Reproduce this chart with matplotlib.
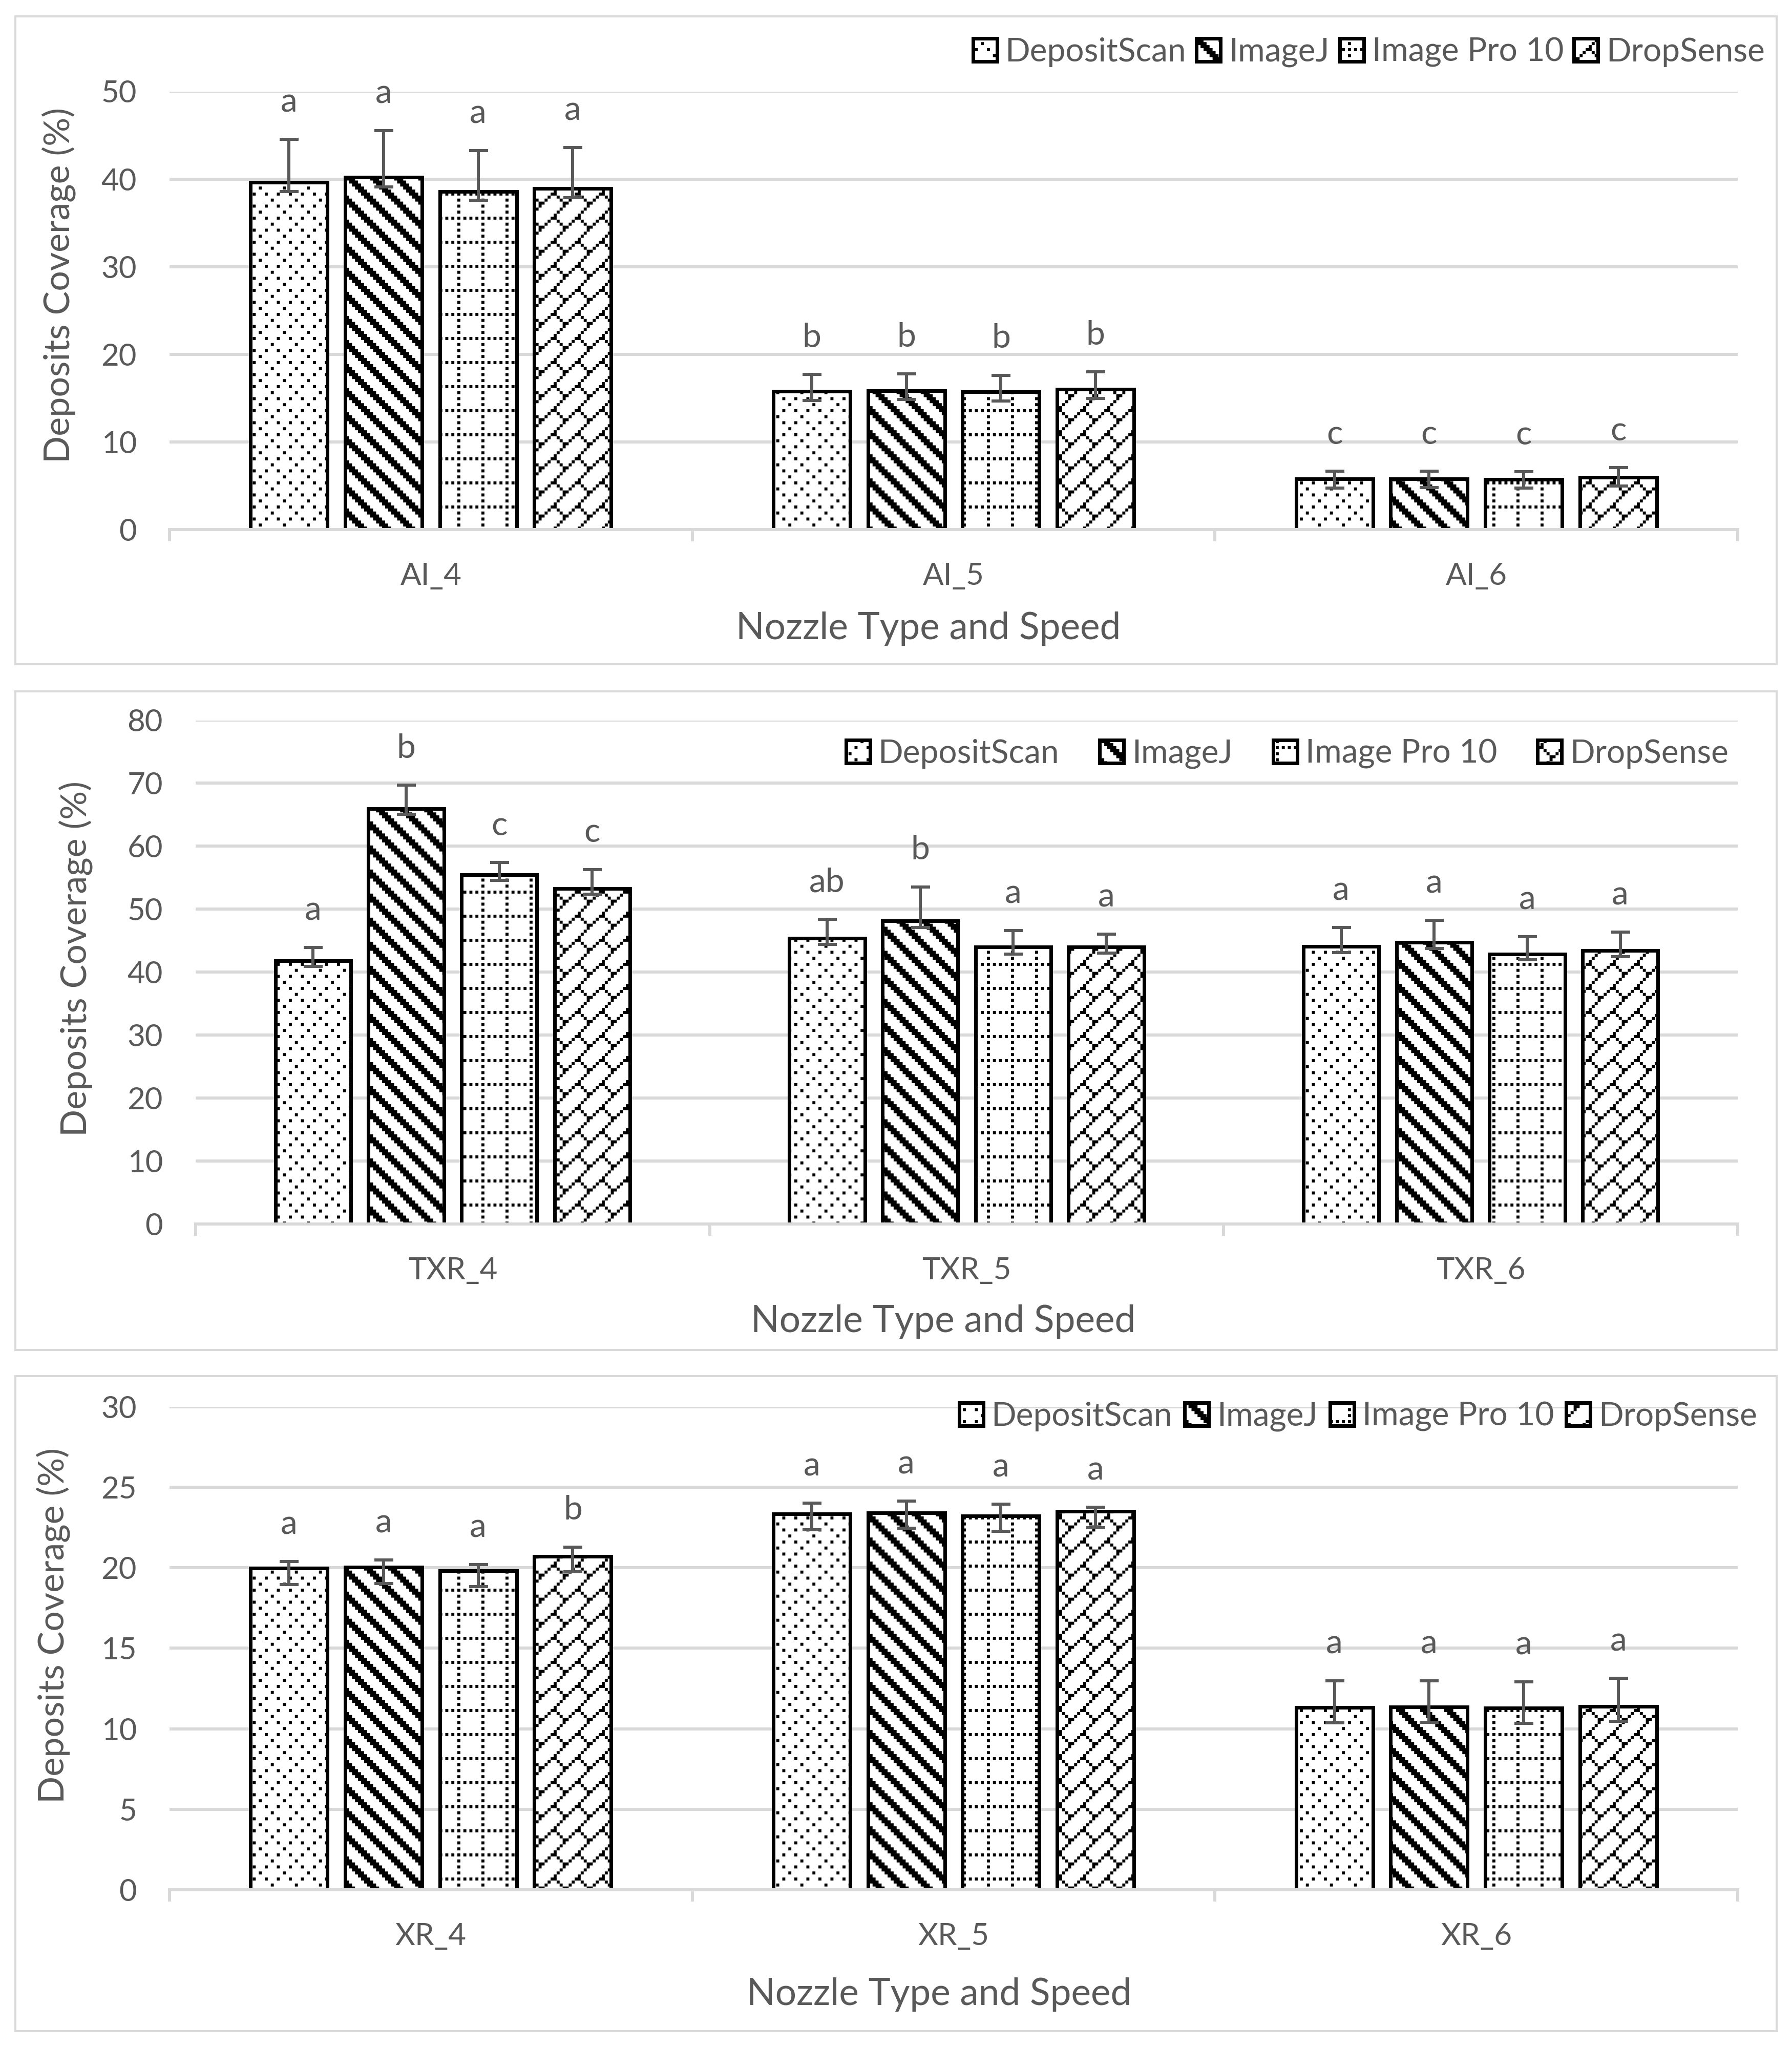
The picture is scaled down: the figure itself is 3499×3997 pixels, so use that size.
import numpy as np
import matplotlib
matplotlib.use("Agg")
import matplotlib.pyplot as plt
import matplotlib.hatch as mhatch
from matplotlib.path import Path
from matplotlib.patches import Rectangle

# ---------------- data ----------------
methods = ["DepositScan", "ImageJ", "Image Pro 10", "DropSense"]

ai_categories = ["AI_4", "AI_5", "AI_6"]
ai_depositscan = [39.6, 15.8, 5.8]
ai_imagej = [40.2, 15.85, 5.8]
ai_imagepro = [38.6, 15.7, 5.75]
ai_dropsense = [38.9, 16.0, 5.95]
ai_err_up_depositscan = [4.95, 1.9, 0.85]
ai_err_up_imagej = [5.35, 1.9, 0.85]
ai_err_up_imagepro = [4.65, 1.9, 0.85]
ai_err_up_dropsense = [4.7, 2.0, 1.1]
ai_err_dn_depositscan = [1.05, 1.05, 1.05]
ai_err_dn_imagej = [1.1, 1.0, 1.0]
ai_err_dn_imagepro = [1.0, 1.05, 1.0]
ai_err_dn_dropsense = [1.0, 1.05, 1.0]
ai_letters_depositscan = ["a", "b", "c"]
ai_letters_imagej = ["a", "b", "c"]
ai_letters_imagepro = ["a", "b", "c"]
ai_letters_dropsense = ["a", "b", "c"]

txr_categories = ["TXR_4", "TXR_5", "TXR_6"]
txr_depositscan = [41.85, 45.4, 44.1]
txr_imagej = [66.0, 48.15, 44.75]
txr_imagepro = [55.5, 44.0, 42.9]
txr_dropsense = [53.3, 44.0, 43.4]
txr_err_up_depositscan = [2.1, 3.0, 3.0]
txr_err_up_imagej = [3.7, 5.4, 3.5]
txr_err_up_imagepro = [1.9, 2.6, 2.7]
txr_err_up_dropsense = [3.0, 2.0, 3.0]
txr_err_dn_depositscan = [0.9, 1.0, 1.0]
txr_err_dn_imagej = [0.9, 1.05, 1.0]
txr_err_dn_imagepro = [0.9, 1.1, 0.95]
txr_err_dn_dropsense = [0.9, 1.0, 0.95]
txr_letters_depositscan = ["a", "ab", "a"]
txr_letters_imagej = ["b", "b", "a"]
txr_letters_imagepro = ["c", "a", "a"]
txr_letters_dropsense = ["c", "a", "a"]

xr_categories = ["XR_4", "XR_5", "XR_6"]
xr_depositscan = [19.96, 23.35, 11.32]
xr_imagej = [20.02, 23.4, 11.36]
xr_imagepro = [19.82, 23.2, 11.28]
xr_dropsense = [20.69, 23.49, 11.4]
xr_err_up_depositscan = [0.43, 0.67, 1.64]
xr_err_up_imagej = [0.45, 0.73, 1.62]
xr_err_up_imagepro = [0.37, 0.73, 1.62]
xr_err_up_dropsense = [0.6, 0.26, 1.74]
xr_err_dn_depositscan = [1.0, 1.0, 0.95]
xr_err_dn_imagej = [1.0, 0.95, 0.95]
xr_err_dn_imagepro = [1.0, 0.95, 0.95]
xr_err_dn_dropsense = [0.95, 1.0, 0.95]
xr_letters_depositscan = ["a", "a", "a"]
xr_letters_imagej = ["a", "a", "a"]
xr_letters_imagepro = ["a", "a", "a"]
xr_letters_dropsense = ["b", "a", "a"]

ai_ticks = [0, 10, 20, 30, 40, 50]
txr_ticks = [0, 10, 20, 30, 40, 50, 60, 70, 80]
xr_ticks = [0, 5, 10, 15, 20, 25, 30]

x_title = "Nozzle Type and Speed"
y_title = "Deposits Coverage (%)"

# ---------------- style: Excel-like 8x8 pattern fills ----------------
DPI = 94            # hatch tile = 94 px = 2 pattern periods of 47 px
REP = 2
W, H = 3500, 3997
PT = 72.0 / DPI     # points per pixel

PAT_DOTS = ["#...#...", "........", "..#.....", "........",
            "#...#...", "........", "......#.", "........"]
PAT_WIDE_DIAG = ["###.....", ".###....", "..###...", "...###..",
                 "....###.", ".....###", "#.....##", "##.....#"]
PAT_DOT_GRID = ["#.#.#.#.", "........", "#.......", "........",
                "#.......", "........", "#.......", "........"]
PAT_BRICK = ["#......#", ".#....#.", "..#..#..", "...##...",
             "...#....", "..#.....", ".#......", "#......."]


def bitmap_hatch(char, rows):
    cells = [(cx, cy) for cy, row in enumerate(rows)
             for cx, ch in enumerate(row) if ch == "#"]

    class _BitmapHatch(mhatch.HatchPatternBase):
        def __init__(self, hatch, density):
            self.num_vertices = 5 * len(cells) * REP * REP if char in hatch else 0

        def set_vertices_and_codes(self, vertices, codes):
            s = 1.0 / (8 * REP)
            k = 0
            for i in range(REP):
                for j in range(REP):
                    for cx, cy in cells:
                        x0 = (i * 8 + cx) * s
                        y0 = 1.0 - (j * 8 + cy + 1) * s
                        vertices[k:k + 5] = [(x0, y0), (x0 + s, y0), (x0 + s, y0 + s),
                                             (x0, y0 + s), (x0, y0)]
                        codes[k:k + 5] = [Path.MOVETO, Path.LINETO, Path.LINETO,
                                          Path.LINETO, Path.CLOSEPOLY]
                        k += 5
    return _BitmapHatch


mhatch._hatch_types[:] = [bitmap_hatch(".", PAT_DOTS),
                          bitmap_hatch("\\", PAT_WIDE_DIAG),
                          bitmap_hatch("+", PAT_DOT_GRID),
                          bitmap_hatch("x", PAT_BRICK)]
hatches = [".", "\\", "+", "x"]

plt.rcParams["font.family"] = ["Lato", "DejaVu Sans"]
plt.rcParams["hatch.linewidth"] = 0.0
TXT = "#595959"
GRID = "#D9D9D9"

fig = plt.figure(figsize=(W / DPI, H / DPI), dpi=DPI)
fig.patch.set_facecolor("white")


def rect(l, t, r, b):
    return [l / W, 1 - b / H, (r - l) / W, (b - t) / H]


panels = [
    dict(cats=ai_categories,
         vals=[ai_depositscan, ai_imagej, ai_imagepro, ai_dropsense],
         up=[ai_err_up_depositscan, ai_err_up_imagej, ai_err_up_imagepro, ai_err_up_dropsense],
         dn=[ai_err_dn_depositscan, ai_err_dn_imagej, ai_err_dn_imagepro, ai_err_dn_dropsense],
         let=[ai_letters_depositscan, ai_letters_imagej, ai_letters_imagepro, ai_letters_dropsense],
         ticks=ai_ticks, ax=(331, 178.5, 3393, 1034), box=(30, 32, 3469, 1297),
         ylab=(115, 557), xlab=(1813, 1228), leg=(3446, 102, 20)),
    dict(cats=txr_categories,
         vals=[txr_depositscan, txr_imagej, txr_imagepro, txr_dropsense],
         up=[txr_err_up_depositscan, txr_err_up_imagej, txr_err_up_imagepro, txr_err_up_dropsense],
         dn=[txr_err_dn_depositscan, txr_err_dn_imagej, txr_err_dn_imagepro, txr_err_dn_dropsense],
         let=[txr_letters_depositscan, txr_letters_imagej, txr_letters_imagepro, txr_letters_dropsense],
         ticks=txr_ticks, ax=(382, 1406.5, 3393, 2390), box=(30, 1350, 3469, 2636),
         ylab=(148, 1872), xlab=(1842, 2580), leg=(3375, 1472, 79)),
    dict(cats=xr_categories,
         vals=[xr_depositscan, xr_imagej, xr_imagepro, xr_dropsense],
         up=[xr_err_up_depositscan, xr_err_up_imagej, xr_err_up_imagepro, xr_err_up_dropsense],
         dn=[xr_err_dn_depositscan, xr_err_dn_imagej, xr_err_dn_imagepro, xr_err_dn_dropsense],
         let=[xr_letters_depositscan, xr_letters_imagej, xr_letters_imagepro, xr_letters_dropsense],
         ticks=xr_ticks, ax=(331, 2746.6, 3393, 3690), box=(30, 2687, 3469, 3966),
         ylab=(104, 3174), xlab=(1834, 3894), leg=(3431, 2766, 24)),
]

BAR_W = 0.147
PITCH = 0.181
TICK_PX = 60
TITLE_PX = 70
LETTER_PX = 66
LEG_PX = 64
LINE_PX = 6

for p in panels:
    l, t, r, b = p["box"]
    fig.patches.append(Rectangle((l / W, 1 - b / H), (r - l) / W, (b - t) / H,
                                 transform=fig.transFigure, fill=False,
                                 edgecolor=GRID, linewidth=4 * PT, zorder=0))
    ax = fig.add_axes(rect(*p["ax"]))
    ax.set_facecolor("none")
    x = np.arange(len(p["cats"]))
    for i, m in enumerate(methods):
        xi = x + (i - 1.5) * PITCH
        ax.bar(xi, p["vals"][i], width=BAR_W, facecolor="white", edgecolor="black",
               linewidth=7 * PT, hatch=hatches[i], label=m, zorder=2)
        ax.errorbar(xi, p["vals"][i], yerr=[p["dn"][i], p["up"][i]], fmt="none",
                    ecolor=TXT, elinewidth=6 * PT, capsize=18.5 * PT,
                    capthick=6 * PT, zorder=3)
        for xx, v, u, s in zip(xi, p["vals"][i], p["up"][i], p["let"][i]):
            ax.annotate(s, (xx, v + u), xytext=(0, 72 * PT), textcoords="offset points",
                        ha="center", va="center", fontsize=LETTER_PX * PT, color=TXT,
                        annotation_clip=False, zorder=4)
    ax.set_xlim(-0.5, len(p["cats"]) - 0.5)
    ax.set_ylim(p["ticks"][0], p["ticks"][-1])
    ax.set_yticks(p["ticks"])
    ax.set_xticks(x)
    ax.set_xticklabels(p["cats"])
    ax.set_xticks(np.arange(len(p["cats"]) + 1) - 0.5, minor=True)
    ax.tick_params(axis="x", which="major", length=0, pad=49, labelsize=TICK_PX * PT,
                   labelcolor=TXT)
    ax.tick_params(axis="x", which="minor", length=23 * PT, width=LINE_PX * PT, color=GRID)
    ax.tick_params(axis="y", length=0, pad=64 * PT, labelsize=TICK_PX * PT, labelcolor=TXT)
    for sp in ("top", "right", "left"):
        ax.spines[sp].set_visible(False)
    ax.spines["bottom"].set_color(GRID)
    ax.spines["bottom"].set_linewidth(LINE_PX * PT)
    ax.yaxis.grid(True, color=GRID, linewidth=LINE_PX * PT)
    ax.set_axisbelow(True)
    al, at, ar, ab = p["ax"]
    ax.set_ylabel(y_title, fontsize=TITLE_PX * PT, color=TXT)
    ax.yaxis.label.set_va("center")
    ax.yaxis.set_label_coords((p["ylab"][0] - al) / (ar - al),
                              (ab - p["ylab"][1]) / (ab - at))
    fig.text(p["xlab"][0] / W, 1 - p["xlab"][1] / H, x_title, ha="center", va="center",
             fontsize=(TITLE_PX + 3) * PT, color=TXT)
    lx, ly, cs = p["leg"]
    ax.legend(loc="center right", bbox_to_anchor=(lx / W, 1 - ly / H),
              bbox_transform=fig.transFigure, ncol=4, frameon=False,
              fontsize=LEG_PX * PT, labelcolor=TXT, handlelength=47 / LEG_PX,
              handleheight=45 / LEG_PX, handletextpad=16 / LEG_PX,
              columnspacing=cs / LEG_PX, borderpad=0, borderaxespad=0)

fig.savefig("out.png", dpi=DPI, facecolor="white")
